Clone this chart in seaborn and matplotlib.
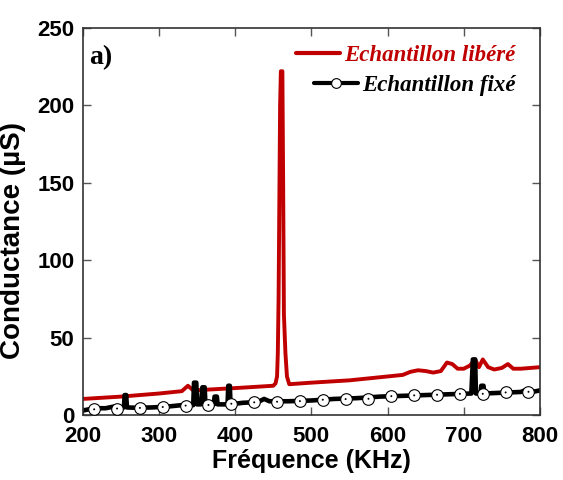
import numpy as np
import pandas as pd
import matplotlib
matplotlib.use("Agg")
import matplotlib.pyplot as plt
from matplotlib.lines import Line2D
import seaborn as sns

# red curve : free sample
freq_libere = [200, 250, 300, 330, 338, 345, 400, 450, 453, 455, 456, 457, 459, 460, 462, 463,
               464, 466, 468, 471, 500, 550, 600, 620, 630, 640, 650, 660, 670, 678, 685,
               692, 700, 708, 715, 720, 725, 732, 740, 750, 758, 765, 775, 800]
cond_libere = [10.5, 12, 14, 15.5, 19, 16, 17.5, 19, 20.5, 25, 40, 75, 200, 222, 222, 150,
               65, 40, 25, 20, 21, 22.5, 25, 26, 28, 29, 28.5, 27.5, 28.5, 34, 33,
               30, 30, 32, 36, 31, 36, 31, 29.5, 30.5, 33, 30, 30, 31]

# black curve : fixed sample
freq_fixe = [200, 210, 220, 230, 240, 250, 254, 255, 257, 258, 270, 290, 310, 330, 345, 346,
             349, 350, 355, 357, 360, 361, 372, 373, 376, 377, 390, 391, 393, 394, 410, 430,
             438, 445, 470, 500, 530, 560, 590, 620, 650, 680, 710, 712, 715, 716, 722, 723,
             726, 727, 750, 775, 780, 790, 800]
cond_fixe = [3, 4, 4.5, 4.5, 5.5, 5, 5, 13, 13, 5, 4.8, 5, 5.5, 6.5, 6.5, 21,
             21, 7, 7, 18, 18, 7, 7, 12, 12, 7, 7, 19, 19, 7, 8, 8.5,
             10.5, 9, 9, 9.5, 10.5, 11, 12, 12.5, 13, 13.5, 14, 36, 36, 14, 14, 19,
             19, 14, 14.5, 15, 16, 15, 16]

# circle markers on the black curve
freq_marq = [215, 245, 275, 305, 335, 365, 395, 425, 455, 485, 515, 545, 575, 605, 635,
             665, 695, 725, 755, 785]
cond_marq = [3.8, 4.3, 4.7, 5.3, 6.2, 6.6, 7.4, 8.3, 8.7, 9.1, 10, 10.4, 10.6, 12.3, 12.8,
             13.2, 13.8, 13.8, 14.7, 15.1]

df_lib = pd.DataFrame({"f": freq_libere, "g": cond_libere})
df_fix = pd.DataFrame({"f": freq_fixe, "g": cond_fixe})
df_marq = pd.DataFrame({"f": freq_marq, "g": cond_marq})

sns.set_style("ticks")
plt.rcParams["font.family"] = ["Liberation Sans", "DejaVu Sans"]
plt.rcParams["text.color"] = "black"

red = "#c00000"
fig = plt.figure(figsize=(5.63, 4.8), dpi=100)
ax = fig.add_axes([0.147, 0.135, 0.812, 0.807])

sns.lineplot(data=df_lib, x="f", y="g", ax=ax, color=red, lw=2.8, estimator=None, sort=False)
sns.lineplot(data=df_fix, x="f", y="g", ax=ax, color="black", lw=3.3, estimator=None, sort=False)
sns.scatterplot(data=df_marq, x="f", y="g", ax=ax, s=70, color="white", edgecolor="black",
                linewidth=0.8, zorder=3)
sns.scatterplot(data=df_marq, x="f", y="g", ax=ax, s=2, color="black", edgecolor="none", zorder=4)

ax.set_xlim(200, 800)
ax.set_ylim(0, 250)
ax.set_xticks(np.arange(200, 801, 100))
ax.set_yticks(np.arange(0, 251, 50))
ax.tick_params(direction="in", length=6, width=1, top=True, right=True, labelsize=16,
               color="#555555", labelcolor="black")
ax.tick_params(axis="x", pad=8)
ax.tick_params(axis="y", pad=6)
for lab in ax.get_xticklabels() + ax.get_yticklabels():
    lab.set_fontweight("bold")
for sp in ax.spines.values():
    sp.set_color("#333333")
    sp.set_linewidth(1.2)

ax.set_xlabel("Fréquence (KHz)", fontsize=18, fontweight="bold", labelpad=1, color="black")
ax.set_ylabel("Conductance (µS)", fontsize=20, fontweight="bold", color="black")
ax.yaxis.set_label_coords(-0.125, 0.452)

ax.text(0.015, 0.955, "a)", transform=ax.transAxes, fontsize=20, fontweight="bold",
        family="Liberation Serif", va="top", ha="left", color="black")

handles = [Line2D([], [], color=red, lw=3),
           Line2D([], [], color="black", lw=3, marker="o", markersize=7,
                  markerfacecolor="white", markeredgecolor="black", markeredgewidth=0.8)]
leg = ax.legend(handles, ["Echantillon libéré", "Echantillon fixé"], loc="upper right",
                bbox_to_anchor=(0.992, 1.01), frameon=False, handlelength=1.9,
                handletextpad=0.2, labelspacing=0.4,
                prop={"family": "Liberation Serif", "weight": "bold", "style": "italic",
                      "size": 16.5})
leg.get_texts()[0].set_color(red)
leg.get_texts()[1].set_color("black")
# right-align the legend rows like in the original figure
for col in leg._legend_handle_box.get_children():
    col.align = "right"

fig.savefig("out.png", dpi=100)
